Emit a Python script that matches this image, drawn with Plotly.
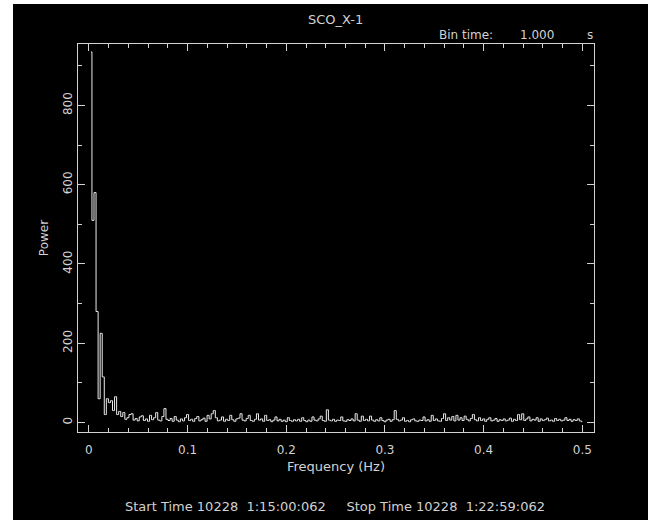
import plotly.graph_objects as go

# Power spectrum of SCO_X-1, 1 s bins, 480 s segment -> 240 frequencies
bin_time = 1.0
n_points = 480

power_01_20 = [935, 510, 580, 280, 60, 225, 115, 20, 60, 50,
               55, 30, 65, 20, 28, 15, 25, 8, 12, 20]
power_21_40 = [22, 6, 10, 4, 14, 17, 5, 9, 3, 18,
               7, 12, 25, 6, 4, 15, 35, 8, 5, 10]
power_41_60 = [3, 15, 6, 2, 9, 4, 12, 20, 5, 8,
               3, 10, 15, 4, 7, 11, 3, 18, 9, 22]
power_61_80 = [30, 12, 4, 6, 14, 3, 8, 5, 18, 7,
               3, 9, 11, 22, 6, 4, 10, 18, 5, 3]
power_81_100 = [8, 22, 6, 9, 3, 18, 5, 7, 2, 6,
                14, 4, 8, 3, 6, 2, 12, 5, 3, 7]
power_101_120 = [4, 8, 3, 12, 5, 2, 6, 3, 14, 6,
                 4, 9, 16, 5, 3, 32, 6, 4, 8, 3]
power_121_140 = [6, 5, 14, 4, 3, 7, 5, 9, 4, 22,
                 6, 3, 16, 5, 8, 4, 16, 6, 3, 7]
power_141_160 = [4, 12, 5, 2, 6, 8, 3, 7, 30, 8,
                 4, 6, 12, 3, 5, 2, 7, 9, 4, 3]
power_161_180 = [6, 5, 14, 4, 7, 3, 18, 5, 9, 4,
                 3, 10, 22, 5, 12, 6, 15, 4, 18, 6]
power_181_200 = [12, 5, 16, 8, 4, 10, 20, 7, 4, 12,
                 5, 9, 3, 8, 12, 4, 6, 10, 3, 7]
power_201_220 = [5, 9, 4, 6, 11, 3, 8, 5, 20, 7,
                 22, 5, 9, 14, 4, 8, 6, 12, 3, 9]
power_221_240 = [5, 7, 11, 4, 6, 3, 10, 5, 8, 4,
                 6, 12, 5, 8, 3, 7, 5, 9, 4, 2]

power = (power_01_20 + power_21_40 + power_41_60 + power_61_80 +
         power_81_100 + power_101_120 + power_121_140 + power_141_160 +
         power_161_180 + power_181_200 + power_201_220 + power_221_240)
freq = [i / (n_points * bin_time) for i in range(1, len(power) + 1)]

x_ticks = [0, 0.1, 0.2, 0.3, 0.4, 0.5]
x_labels = ["0", "0.1", "0.2", "0.3", "0.4", "0.5"]
y_ticks = [0, 200, 400, 600, 800]
y_labels = ["0", "200", "400", "600", "800"]

fg = "#d2d2d2"
font = "DejaVu Sans"

fig = go.Figure()
fig.add_trace(go.Scatter(
    x=freq, y=power, mode="lines",
    line=dict(color="#ececec", width=1, shape="hvh"),
    showlegend=False, hoverinfo="skip",
))

axis_common = dict(
    showline=True, linecolor=fg, linewidth=1, mirror="ticks",
    ticks="inside", tickcolor=fg, tickwidth=1, ticklen=7,
    showgrid=False, zeroline=False,
    tickfont=dict(family=font, size=12, color=fg),
)

fig.update_xaxes(
    range=[-0.011, 0.5118], tickvals=x_ticks, ticktext=x_labels,
    ticklabelstandoff=7,
    minor=dict(dtick=0.02, tick0=0, ticks="inside", ticklen=4,
               tickcolor=fg, tickwidth=1, showgrid=False),
    title=dict(text="Frequency (Hz)", font=dict(family=font, size=13, color=fg),
               standoff=5),
    **axis_common,
)
fig.update_yaxes(
    range=[-24, 955], tickvals=y_ticks, ticktext=y_labels, tickangle=-90,
    minor=dict(dtick=100, tick0=0, ticks="inside", ticklen=4,
               tickcolor=fg, tickwidth=1, showgrid=False),
    title=dict(text="Power", font=dict(family=font, size=12, color=fg),
               standoff=10),
    **axis_common,
)

W, H = 648, 520
ml, mr, mt, mb = 78, 54, 44, 88
pw, ph = W - ml - mr, H - mt - mb


def px(x):
    return (x - ml) / pw


def py(y):
    return 1 - (y - mt) / ph


annotations = [
    dict(text="SCO_X-1", x=px(335), y=py(19), size=13),
    dict(text="Bin time:", x=px(466), y=py(35), size=12),
    dict(text="1.000", x=px(537), y=py(35), size=12),
    dict(text="s", x=px(590), y=py(35), size=12),
    dict(text="Start Time 10228&#160;&#160;1:15:00:062&#160;&#160;&#160;&#160;&#160;"
              "Stop Time 10228&#160;&#160;1:22:59:062",
         x=px(335), y=py(506), size=13),
]
for a in annotations:
    size = a.pop("size")
    a.update(xref="paper", yref="paper", xanchor="center", yanchor="middle",
             showarrow=False, font=dict(family=font, size=size, color=fg))

fig.update_layout(
    width=W, height=H,
    margin=dict(l=ml, r=mr, t=mt, b=mb),
    paper_bgcolor="black", plot_bgcolor="black",
    annotations=annotations,
    shapes=[
        dict(type="rect", xref="paper", yref="paper", layer="above",
             x0=px(-2), x1=px(13), y0=py(H + 2), y1=py(-2),
             fillcolor="white", line=dict(width=0)),
        dict(type="rect", xref="paper", yref="paper", layer="above",
             x0=px(-2), x1=px(W + 2), y0=py(4), y1=py(-2),
             fillcolor="white", line=dict(width=0)),
    ],
)

fig.write_html("out.html", config=dict(displayModeBar=False))
